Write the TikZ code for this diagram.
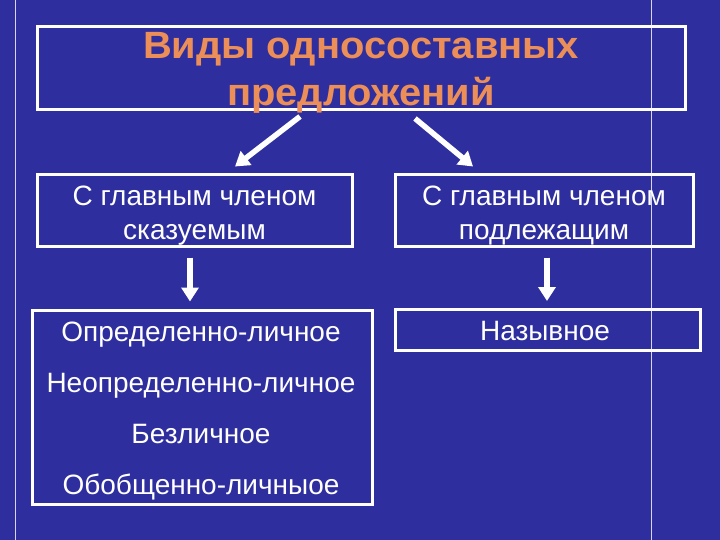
\documentclass[tikz,border=0pt]{standalone}
\usepackage{fontspec}
\setmainfont{Liberation Sans}
\newfontfamily\titlesans[FakeStretch=1.05]{Liberation Sans}
\usetikzlibrary{arrows.meta}
\definecolor{slideblue}{RGB}{46,46,158}
\definecolor{titleorange}{RGB}{236,142,88}
\tikzset{
    box/.style={draw=white, line width=3pt, inner sep=0pt},
    txt/.style={text=white, align=center, anchor=base, inner sep=0pt,
                font=\fontsize{28}{34}\selectfont},
    arr/.style={white, line width=5.5pt, -{Triangle[width=17pt,length=14pt]}},
}
\begin{document}
\begin{tikzpicture}[x=1pt,y=-1pt]
    \useasboundingbox (0,0) rectangle (720,540);
    \fill[slideblue] (0,0) rectangle (720,540);
    \draw[white!80!slideblue, line width=0.8pt] (15,0) -- (15,540);
    \draw[white!80!slideblue, line width=0.8pt] (651,0) -- (651,540);

    % boxes
    \node[box, minimum width=648pt, minimum height=83pt] (title) at (361,68.5) {};
    \node[box, minimum width=315pt, minimum height=71pt] (skaz) at (194.5,210.5) {};
    \node[box, minimum width=298pt, minimum height=71pt] (podl) at (544,210.5) {};
    \node[box, minimum width=340pt, minimum height=194pt] (types) at (202,407) {};
    \node[box, minimum width=305pt, minimum height=41pt] (nazyv) at (547.5,330) {};

    % texts (base = last line)
    \node[txt, text=titleorange, font=\titlesans\fontsize{38}{47}\selectfont\bfseries]
        (titleT) at (361,106) {Виды односоставных\\предложений};
    \node[txt] (skazT) at (194.5,240) {С главным членом\\сказуемым};
    \node[txt] (podlT) at (544,240) {С главным членом\\подлежащим};
    \node[txt, font=\fontsize{28}{51}\selectfont] (typesT) at (201,494)
        {Определенно-личное\\Неопределенно-личное\\Безличное\\Обобщенно-личныое};
    \node[txt] (nazyvT) at (545,340) {Назывное};

    \draw[arr] ([xshift=-61pt,yshift=-5pt]title.south) -- ([xshift=40.5pt,yshift=7pt]skaz.north);
    \draw[arr] ([xshift=54pt,yshift=-7pt]title.south) -- ([xshift=-71pt,yshift=7pt]podl.north);
    \draw[arr] ([xshift=-4.5pt,yshift=-10pt]skaz.south) -- ([xshift=-12pt,yshift=7pt]types.north);
    \draw[arr] ([xshift=3pt,yshift=-10pt]podl.south) -- ([xshift=-0.5pt,yshift=7pt]nazyv.north);
\end{tikzpicture}
\end{document}
